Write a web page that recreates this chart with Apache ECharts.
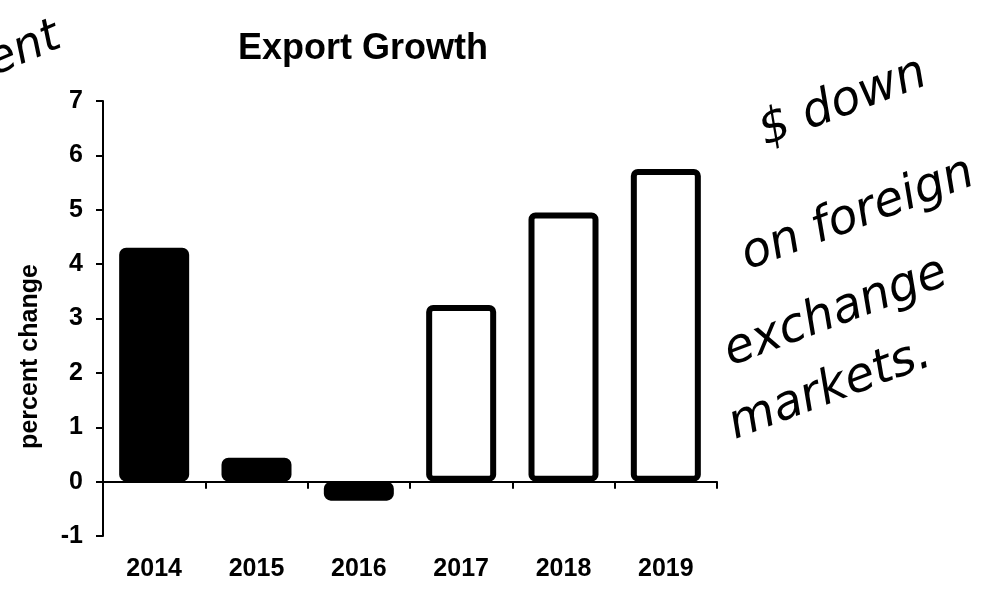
<!DOCTYPE html>
<html>
<head>
<meta charset="utf-8">
<script src="https://cdn.jsdelivr.net/npm/echarts@6/dist/echarts.min.js"></script>
<style>
html,body{margin:0;padding:0;background:#fff;}
#chart{width:982px;height:590px;}
</style>
</head>
<body>
<div id="chart"></div>
<script>
var categories = ['2014', '2015', '2016', '2017', '2018', '2019'];
var actualValues = [4.3, 0.44, -0.35, null, null, null];
var projectedValues = [null, null, null, 3.25, 4.95, 5.75];
var yTicks = {min: -1, max: 7, interval: 1};
var notes = ['$ down', 'on foreign', 'exchange', 'markets.'];

var chart = echarts.init(document.getElementById('chart'), null, {renderer: 'canvas'});
var font = 'Liberation Sans, Arial, sans-serif';
var hand = 'DejaVu Sans, sans-serif';
var notePos = [[843, 103], [858, 215], [836, 313], [830, 390]];

var graphics = notes.map(function (t, i) {
  return {
    type: 'text', x: notePos[i][0], y: notePos[i][1], rotation: 0.36,
    style: {text: t, fill: '#000', font: 'italic 48px ' + hand, textAlign: 'center', textVerticalAlign: 'middle'}
  };
});
graphics.push({
  type: 'text', x: 24, y: 50, rotation: 0.4,
  style: {text: 'ent', fill: '#000', font: 'italic 46px ' + hand, textAlign: 'center', textVerticalAlign: 'middle'}
});

chart.setOption({
  animation: false,
  backgroundColor: '#fff',
  title: {
    text: 'Export Growth', left: 238, top: 31, padding: 0,
    textStyle: {fontFamily: font, fontWeight: 'bold', fontSize: 36, color: '#000'}
  },
  grid: {left: 103, right: 265, top: 101, bottom: 54, containLabel: false, outerBoundsMode: 'none'},
  xAxis: {
    type: 'category', data: categories,
    axisLine: {onZero: true, lineStyle: {color: '#000', width: 2}},
    axisTick: {show: true, inside: false, length: 7, lineStyle: {color: '#000', width: 2}},
    axisLabel: {color: '#000', fontFamily: font, fontWeight: 'bold', fontSize: 25, margin: 21}
  },
  yAxis: {
    type: 'value', min: yTicks.min, max: yTicks.max, interval: yTicks.interval,
    name: 'percent change', nameLocation: 'middle', nameGap: 60,
    nameTextStyle: {color: '#000', fontFamily: font, fontWeight: 'bold', fontSize: 25, padding: [0, 76, 0, 0]},
    splitLine: {show: false},
    axisLine: {show: true, lineStyle: {color: '#000', width: 2}},
    axisTick: {show: true, length: 7, lineStyle: {color: '#000', width: 2}},
    axisLabel: {color: '#000', fontFamily: font, fontWeight: 'bold', fontSize: 25, margin: 20}
  },
  series: [
    {
      name: 'actual', type: 'bar', data: actualValues, barWidth: 70, barGap: '-100%',
      itemStyle: {color: '#000', borderColor: '#000', borderWidth: 6, borderRadius: 4}
    },
    {
      name: 'projected', type: 'bar', data: projectedValues, barWidth: 70, barGap: '-100%',
      itemStyle: {color: '#fff', borderColor: '#000', borderWidth: 6, borderRadius: 4}
    }
  ],
  graphic: graphics
});
</script>
</body>
</html>
